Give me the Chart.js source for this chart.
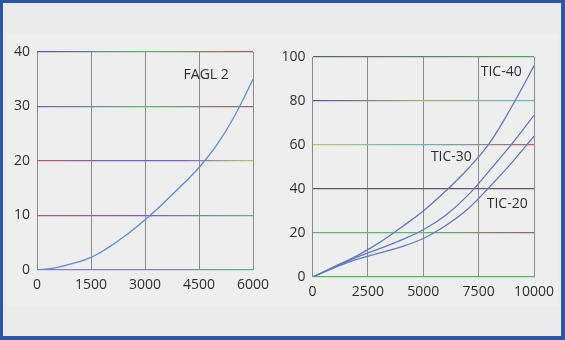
<!DOCTYPE html>
<html lang="en">
<head>
<meta charset="UTF-8" />
<title>FAGL 2 / TIC</title>
<script src="https://cdn.jsdelivr.net/npm/chart.js"></script>
<style>
  html, body { margin: 0; padding: 0; }
  body { width: 565px; height: 340px; background: #2b57a6; position: relative; overflow: hidden; }
  #inner { position: absolute; left: 3px; top: 3px; width: 558px; height: 333px; background: #ebebeb; }
  #panel { position: absolute; left: 6px; top: 34px; width: 552px; height: 272px; background: #eeeeee; }
  .box { position: absolute; top: 0; height: 340px; }
  #leftBox { left: 0; width: 283px; }
  #rightBox { left: 270px; width: 292px; }
</style>
</head>
<body>
<div id="inner"></div>
<div id="panel"></div>
<div class="box" id="leftBox"><canvas id="leftChart"></canvas></div>
<div class="box" id="rightBox"><canvas id="rightChart"></canvas></div>

<script>
// left chart: FAGL 2
const faglX = [0, 500, 1000, 1500, 2000, 2500, 3000, 3500, 4000, 4500, 5000, 5500, 6000];
const faglY = [0, 0.4, 1.2, 2.3, 4.2, 6.5, 9.2, 12.2, 15.4, 18.8, 23.0, 28.4, 35];

// right chart: TIC-20 / TIC-30 / TIC-40
const ticX = [0, 1000, 2000, 3000, 4000, 5000, 6000, 7000, 8000, 9000, 10000];
const tic40 = [0, 4.8, 9.6, 15.5, 22.5, 30, 39, 49, 61, 77.5, 96];
const tic30 = [0, 4.5, 9, 12.8, 16.8, 21.5, 28, 37, 48.5, 60.5, 73.5];
const tic20 = [0, 4.3, 8, 10.8, 13.7, 17.5, 23.3, 30.8, 41, 52, 64];

const leftXTicks = [0, 1500, 3000, 4500, 6000];
const leftYTicks = [0, 10, 20, 30, 40];
const rightXTicks = [0, 2500, 5000, 7500, 10000];
const rightYTicks = [0, 20, 40, 60, 80, 100];

// curve names, placed in data units
const leftLabels = [{ text: 'FAGL 2', x: 4700, y: 35.8 }];
const rightLabels = [
  { text: 'TIC-40', x: 8520, y: 93.4 },
  { text: 'TIC-30', x: 6270, y: 54.7 },
  { text: 'TIC-20', x: 8790, y: 33.4 }
];

// the scanned grid lines change tint along their length
const leftLineTints = [
  ['#8a78d8', '#8a78d8', '#5cb870'],
  ['#b85c6c', '#7a60c8', '#5cb870'],
  ['#b85c6c', '#7a60c8', '#7a60c8', '#c8c060'],
  ['#7060b8', '#5cb870', '#a05868'],
  ['#6050c8', '#5cb860', '#b85050']
];
const rightLineTints = [
  ['#50b860', '#50b860'],
  ['#5cb870', '#5cb870', '#a06060'],
  ['#705070', '#705070'],
  ['#b8c070', '#60b8c0', '#b86060'],
  ['#6050a8', '#b0a870', '#60b8c0'],
  ['#606060', '#50a860']
];

const textColor = '#2e2e2e';
const fontFamily = '"Open Sans", "Noto Sans", sans-serif';

function tintGradient(chart, stops) {
  const area = chart.chartArea;
  if (!area) return stops[0];
  const g = chart.ctx.createLinearGradient(area.left, 0, area.right, 0);
  stops.forEach((c, i) => g.addColorStop(i / (stops.length - 1), c));
  return g;
}

const curveLabels = {
  id: 'curveLabels',
  afterDatasetsDraw(chart, args, opts) {
    const { ctx, scales } = chart;
    ctx.save();
    ctx.font = '14px ' + fontFamily;
    ctx.fillStyle = textColor;
    ctx.textAlign = 'center';
    ctx.textBaseline = 'middle';
    (opts.items || []).forEach(l => {
      ctx.fillText(l.text, scales.x.getPixelForValue(l.x), scales.y.getPixelForValue(l.y));
    });
    ctx.restore();
  }
};

function pts(xs, ys) {
  return xs.map((x, i) => ({ x, y: ys[i] }));
}

function makeChart(id, cfg) {
  return new Chart(document.getElementById(id).getContext('2d'), {
    type: 'line',
    data: {
      datasets: cfg.series.map(s => ({
        data: s,
        borderColor: cfg.lineColor,
        borderWidth: 1.3,
        pointRadius: 0,
        tension: 0.4,
        fill: false
      }))
    },
    options: {
      responsive: true,
      maintainAspectRatio: false,
      animation: false,
      layout: { padding: cfg.padding },
      plugins: {
        legend: { display: false },
        tooltip: { enabled: false },
        curveLabels: { items: cfg.labels }
      },
      scales: {
        x: {
          type: 'linear',
          min: cfg.xTicks[0],
          max: cfg.xTicks[cfg.xTicks.length - 1],
          afterBuildTicks: s => { s.ticks = cfg.xTicks.map(v => ({ value: v })); },
          afterFit: s => { s.height = cfg.xHeight; },
          grid: { color: '#8a8a8a', lineWidth: 1, drawTicks: false },
          border: { display: false },
          ticks: {
            padding: 7,
            maxRotation: 0,
            autoSkip: false,
            color: textColor,
            font: { family: fontFamily, size: 14 },
            callback: v => String(v)
          }
        },
        y: {
          min: cfg.yTicks[0],
          max: cfg.yTicks[cfg.yTicks.length - 1],
          afterBuildTicks: s => { s.ticks = cfg.yTicks.map(v => ({ value: v })); },
          afterFit: s => { s.width = cfg.yWidth; },
          grid: {
            lineWidth: 1.2,
            drawTicks: false,
            color: c => tintGradient(c.chart, cfg.tints[c.index] || ['#888', '#888'])
          },
          border: { display: false },
          ticks: {
            padding: 7,
            color: textColor,
            font: { family: fontFamily, size: 14 },
            callback: v => String(v)
          }
        }
      }
    },
    plugins: [curveLabels]
  });
}

makeChart('leftChart', {
  series: [pts(faglX, faglY)],
  lineColor: '#5b8fd0',
  labels: leftLabels,
  xTicks: leftXTicks,
  yTicks: leftYTicks,
  tints: leftLineTints,
  xHeight: 70,
  yWidth: 37,
  padding: { left: 0, right: 30, top: 52, bottom: 0 }
});

makeChart('rightChart', {
  series: [pts(ticX, tic40), pts(ticX, tic30), pts(ticX, tic20)],
  lineColor: '#5f7bbd',
  labels: rightLabels,
  xTicks: rightXTicks,
  yTicks: rightYTicks,
  tints: rightLineTints,
  xHeight: 63,
  yWidth: 42.5,
  padding: { left: 0, right: 28, top: 57, bottom: 0 }
});
</script>
</body>
</html>
